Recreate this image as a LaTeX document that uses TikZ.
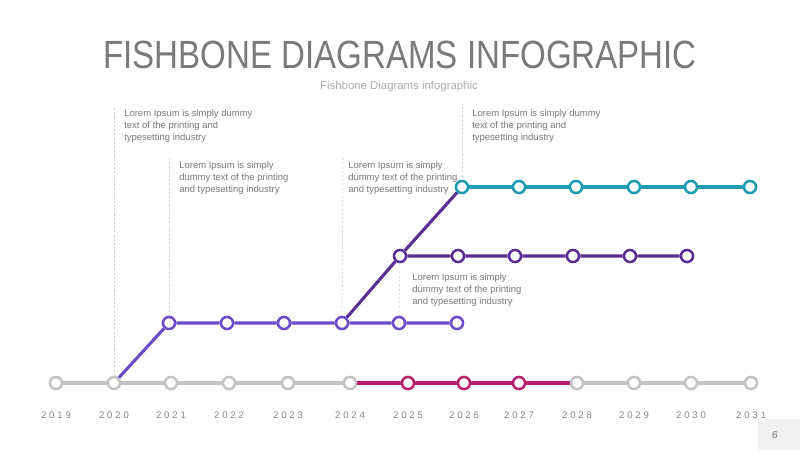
\documentclass[tikz,border=0pt]{standalone}
\usepackage{fontspec}
\setmainfont{Liberation Sans}
\newfontfamily\titlefont[FakeStretch=0.84]{Liberation Sans}
\newfontfamily\yearfont[LetterSpace=30]{Liberation Sans}
\usetikzlibrary{positioning}
\definecolor{basegray}{HTML}{C3C3C3}
\definecolor{txtgray}{HTML}{7A7A7A}
\definecolor{lightgray}{HTML}{ABABAB}
\definecolor{magentaline}{HTML}{B8226F}
\definecolor{violetline}{HTML}{6A4CC8}
\definecolor{purpleline}{HTML}{5B2E93}
\definecolor{tealline}{HTML}{1E9CB2}

\begin{document}
\begin{tikzpicture}[x=0.025cm,y=-0.025cm,
  dot/.style={circle,draw=#1,fill=white,line width=1.8pt,minimum size=8.6pt,inner sep=0pt},
  track/.style={line width=2.2pt,draw=#1},
  guide/.style={draw=gray!40,dashed,line width=0.4pt,dash pattern=on 1.5pt off 1.5pt},
  note/.style={anchor=north west,inner sep=0pt,align=left,text=txtgray,
    font=\fontsize{6.75}{8.6}\selectfont},
  year/.style={text=txtgray!90,font=\yearfont\fontsize{6.8}{8}\selectfont}]
  \useasboundingbox (0,0) rectangle (800,450);
  \fill[white] (0,0) rectangle (800,450);
  % titles
  \node[anchor=base,text=txtgray,font=\titlefont\fontsize{28}{32}\selectfont] (title) at (400,68) {FISHBONE DIAGRAMS INFOGRAPHIC};
  \node[anchor=base,text=lightgray,font=\fontsize{8.1}{9}\selectfont] (subtitle) at (399,89) {Fishbone Diagrams infographic};
  % base timeline with years
  \foreach \yr/\x in {19/56,20/114,21/171,22/229,23/288,24/350,25/408,26/464,27/519,28/577,29/634,30/691,31/751}{
    \node[year] (y\yr) at (\x,415) {20\yr};
  }
  \foreach \yr/\x in {19/56,20/114,21/171,22/229,23/288,24/350,28/577,29/634,30/691,31/751}{
    \node[dot=basegray] (g\yr) at (\x,383) {};
  }
  \foreach \yr/\x in {25/408,26/464,27/519}{
    \node[dot=magentaline] (g\yr) at (\x,383) {};
  }
  \draw[track=basegray] (g19) -- (g20) -- (g21) -- (g22) -- (g23) -- (g24);
  \draw[track=magentaline] (g24) -- (g25) -- (g26) -- (g27) -- (g28);
  \draw[track=basegray] (g28) -- (g29) -- (g30) -- (g31);
  % raised branches
  \foreach \yr/\x in {21/169,22/227,23/284,24/342,25/399,26/457}{
    \node[dot=violetline] (v\yr) at (\x,323) {};
  }
  \foreach \yr/\x in {25/400,26/458,27/515,28/573,29/630,30/687}{
    \node[dot=purpleline] (p\yr) at (\x,256) {};
  }
  \foreach \yr/\x in {26/462,27/519,28/576,29/634,30/691,31/750}{
    \node[dot=tealline] (t\yr) at (\x,187) {};
  }
  \draw[track=violetline] (g20) -- (v21) -- (v22) -- (v23) -- (v24) -- (v25) -- (v26);
  \draw[track=purpleline] (v24) -- (p25) -- (p26) -- (p27) -- (p28) -- (p29) -- (p30);
  \draw[track=purpleline] (p25) -- (t26);
  \draw[track=tealline] (t26) -- (t27) -- (t28) -- (t29) -- (t30) -- (t31);
  % guide lines
  \coordinate (c1) at (114,108);
  \coordinate (c2) at (169,158);
  \coordinate (c3) at (343,158);
  \coordinate (c4) at (462,107);
  \draw[guide] (c1) -- (g20);
  \draw[guide] (c2) -- (v21);
  \draw[guide] (c3) -- (v24);
  \draw[guide] (c4) -- (t26);
  \draw[guide] (p25) -- (v25);
  % notes
  \node[note] (n1) at (124,109) {Lorem Ipsum is simply dummy\\text of the printing and\\typesetting industry};
  \node[note] (n2) at (179,161) {Lorem Ipsum is simply\\dummy text of the printing\\and typesetting industry};
  \node[note] (n3) at (348,161) {Lorem Ipsum is simply\\dummy text of the printing\\and typesetting industry};
  \node[note] (n4) at (472,109) {Lorem Ipsum is simply dummy\\text of the printing and\\typesetting industry};
  \node[note] (n5) at (412,273) {Lorem Ipsum is simply\\dummy text of the printing\\and typesetting industry};
  % page number
  \fill[gray!12] (758,419) rectangle (800,450);
  \node[text=txtgray,font=\fontsize{7.2}{8}\selectfont] (page) at (775,435) {6};
\end{tikzpicture}
\end{document}
